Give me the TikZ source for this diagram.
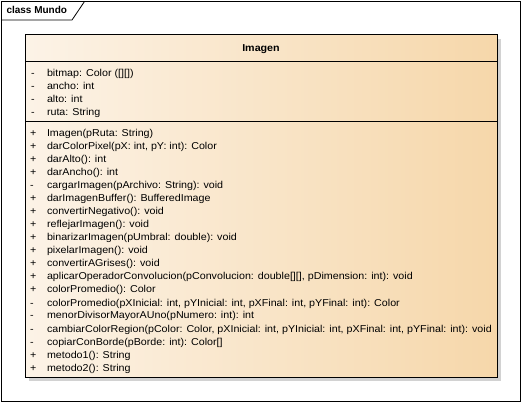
\documentclass[tikz,border=0pt]{standalone}
\usepackage{fontspec}
\setmainfont{Liberation Sans}
\newfontfamily\umlfont{Liberation Sans}[FakeStretch=1.07]
\usepackage{tikz}
\usetikzlibrary{positioning, calc}

\definecolor{umlLeft}{HTML}{FCF3E7}
\definecolor{umlRight}{HTML}{F6D7AA}
\definecolor{umlShadow}{HTML}{D2D2D2}

\begin{document}
\begin{tikzpicture}[
                x = 1pt, y = -1pt,
                every node/.style={inner sep=0pt, outer sep=0pt, font=\umlfont\fontsize{10}{12}\selectfont},
                compart/.style={rectangle, draw, line width=1pt, anchor=north west,
                    minimum width=472pt, left color=umlLeft, right color=umlRight},
                member/.style={anchor=base west},
                vis/.style={anchor=base west}
            ]
            \useasboundingbox (0,0) rectangle (522,403);
            % package frame with its name tab
            \draw[line width=0.8pt] (1.5,1.5) rectangle (520.5,401.5);
            \coordinate (tabA) at (84.5,1.5);
            \coordinate (tabB) at (72,20);
            \coordinate (tabC) at (1.5,20);
            \draw[line width=0.8pt] (tabA) -- (tabB) -- (tabC);
            \node[anchor=base west, font=\fontsize{10}{12}\selectfont\bfseries] (pkg) at (6.5,14) {class Mundo};
            
            % shadow behind the class
            \fill[umlShadow] (29,39) rectangle (501,381);
            
            % the three compartments of the class
            \node[compart, minimum height=27pt] (hdr) at (25,35) {};
            \node[compart, minimum height=60pt] (attrs) at (hdr.south west) {};
            \node[compart, minimum height=255pt] (ops) at (attrs.south west) {};
            \node[font=\umlfont\fontsize{10}{12}\selectfont\bfseries] (name) at ($(hdr.center)+(0,1)$) {Imagen};
            
            % attributes
            \foreach \s/\t [count=\i] in {
                -/{bitmap: Color ([][])},
                -/{ancho: int},
                -/{alto: int},
                -/{ruta: String}}{
                \node[vis] (vattr\i) at (31,{77+13*(\i-1)}) {\s};
                \node[member] (attr\i) at (47,{77+13*(\i-1)}) {\t};
            }
            
            % operations
            \foreach \s/\t [count=\i] in {
                +/{Imagen(pRuta: String)},
                +/{darColorPixel(pX: int, pY: int): Color},
                +/{darAlto(): int},
                +/{darAncho(): int},
                -/{cargarImagen(pArchivo: String): void},
                +/{darImagenBuffer(): BufferedImage},
                +/{convertirNegativo(): void},
                +/{reflejarImagen(): void},
                +/{binarizarImagen(pUmbral: double): void},
                +/{pixelarImagen(): void},
                +/{convertirAGrises(): void},
                +/{aplicarOperadorConvolucion(pConvolucion: double[][], pDimension: int): void},
                +/{colorPromedio(): Color},
                -/{colorPromedio(pXInicial: int, pYInicial: int, pXFinal: int, pYFinal: int): Color},
                -/{menorDivisorMayorAUno(pNumero: int): int},
                -/{cambiarColorRegion(pColor: Color, pXInicial: int, pYInicial: int, pXFinal: int, pYFinal: int): void},
                -/{copiarConBorde(pBorde: int): Color[]},
                +/{metodo1(): String},
                +/{metodo2(): String}}{
                \node[vis] (vop\i) at (30,{137+13*(\i-1)}) {\s};
                \node[member] (op\i) at (47,{137+13*(\i-1)}) {\t};
            }
        \end{tikzpicture}
\end{document}
